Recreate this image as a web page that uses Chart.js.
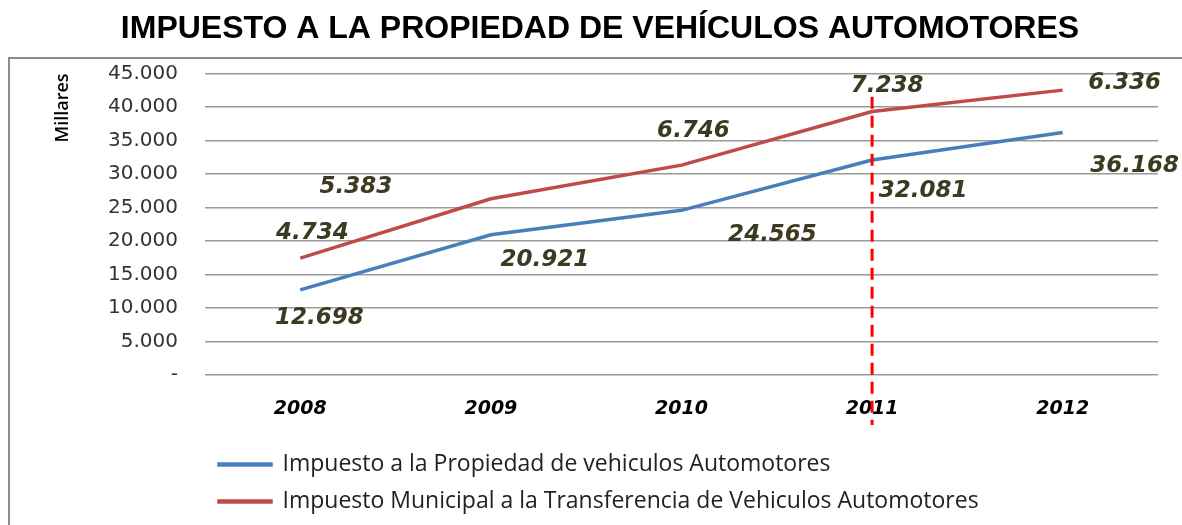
<!DOCTYPE html>
<html>
<head>
<meta charset="utf-8">
<script src="https://cdn.jsdelivr.net/npm/chart.js@4"></script>
<style>
  body { margin: 0; background: #fff; }
  #chartContainer { width: 1182px; height: 525px; }
</style>
</head>
<body>
<div id="chartContainer"><canvas id="chart" width="1182" height="525"></canvas></div>
<script>
const years = ["2008", "2009", "2010", "2011", "2012"]
const propiedad = [12698, 20921, 24565, 32081, 36168]
const transferenciaTotal = [17432, 26304, 31311, 39319, 42504]
const labelsPropiedad = ["12.698", "20.921", "24.565", "32.081", "36.168"]
const labelsTransferencia = ["4.734", "5.383", "6.746", "7.238", "6.336"]
const markedYear = "2011"

// where each value label sits relative to its point (px)
const offsetsPropiedad = [[19, 28], [54, 25], [91, 25], [51, 31], [72, 33]]
const offsetsTransferencia = [[12, -25], [-135, -12], [12, -34], [15, -25], [62, -7]]

const fmt = v => v === 0 ? "-" : v.toLocaleString("de-DE")

const framePlugin = {
    id: "frame",
    beforeDraw(chart) {
        const ctx = chart.ctx
        ctx.save()
        ctx.fillStyle = "#fff"
        ctx.fillRect(0, 0, chart.width, chart.height)
        ctx.strokeStyle = "#8c8c8c"
        ctx.lineWidth = 2
        ctx.beginPath()
        ctx.moveTo(9, chart.height)
        ctx.lineTo(9, 58)
        ctx.lineTo(chart.width, 58)
        ctx.stroke()
        ctx.restore()
    }
}

const labelPlugin = {
    id: "valueLabels",
    afterDatasetsDraw(chart) {
        const ctx = chart.ctx
        const x = chart.scales.x
        const y = chart.scales.y

        // red dashed marker
        const mx = x.getPixelForValue(years.indexOf(markedYear))
        ctx.save()
        ctx.strokeStyle = "#ff0000"
        ctx.lineWidth = 3
        ctx.setLineDash([12, 7])
        ctx.beginPath()
        ctx.moveTo(mx, y.getPixelForValue(41500))
        ctx.lineTo(mx, chart.chartArea.bottom + 50)
        ctx.stroke()
        ctx.restore()

        ctx.save()
        ctx.font = "italic bold 23px 'DejaVu Sans'"
        ctx.fillStyle = "#3c3a20"
        ctx.textAlign = "center"
        ctx.textBaseline = "middle"
        const sets = [[0, labelsPropiedad, offsetsPropiedad], [1, labelsTransferencia, offsetsTransferencia]]
        sets.forEach(([di, texts, offs]) => {
            chart.getDatasetMeta(di).data.forEach((pt, i) => {
                ctx.fillText(texts[i], pt.x + offs[i][0], pt.y + offs[i][1])
            })
        })
        ctx.restore()
    }
}

new Chart(document.getElementById("chart"), {
    type: "line",
    data: {
        labels: years,
        datasets: [
            {
                label: "Impuesto a la Propiedad de vehiculos Automotores",
                data: propiedad,
                borderColor: "#4a7ebb",
                backgroundColor: "#4a7ebb",
                borderWidth: 3.5,
                pointRadius: 0,
                tension: 0
            },
            {
                label: "Impuesto Municipal a la Transferencia de Vehiculos Automotores",
                data: transferenciaTotal,
                borderColor: "#be4b48",
                backgroundColor: "#be4b48",
                borderWidth: 3.5,
                pointRadius: 0,
                tension: 0
            }
        ]
    },
    options: {
        responsive: false,
        animation: false,
        devicePixelRatio: 1,
        layout: { padding: { left: 42, right: 24, top: 0, bottom: 2 } },
        plugins: {
            tooltip: { enabled: false },
            title: {
                display: true,
                text: "IMPUESTO A LA PROPIEDAD DE VEHÍCULOS AUTOMOTORES",
                color: "#000",
                font: { family: "'Liberation Sans', Arial, sans-serif", size: 32, weight: "bold" },
                padding: { top: 10, bottom: 25 }
            },
            legend: {
                position: "bottom",
                align: "start",
                fullSize: false,
                labels: {
                    color: "#222",
                    font: { family: "'Open Sans', sans-serif", size: 23 },
                    boxWidth: 52,
                    boxHeight: 1,
                    padding: 14
                }
            }
        },
        scales: {
            x: {
                offset: true,
                grid: { display: false, drawTicks: false },
                border: { display: false },
                ticks: {
                    color: "#000",
                    padding: 23,
                    font: { family: "'DejaVu Sans'", size: 19, style: "italic", weight: "bold" }
                },
                afterFit: s => { s.height = 64 }
            },
            y: {
                min: 0,
                max: 45000,
                grid: { color: "#9a9a9a", lineWidth: 1.5, drawTicks: false },
                border: { display: false },
                ticks: {
                    stepSize: 5000,
                    color: "#333",
                    padding: 27,
                    font: { family: "'DejaVu Sans'", size: 20 },
                    callback: v => fmt(v)
                },
                title: {
                    display: true,
                    text: "Millares",
                    align: "end",
                    color: "#000",
                    font: { family: "'Open Sans', sans-serif", size: 18, weight: "600" },
                    padding: { top: 10, bottom: 0 }
                },
                afterFit: s => { s.width = 163 }
            }
        }
    },
    plugins: [framePlugin, labelPlugin]
})
</script>
</body>
</html>
